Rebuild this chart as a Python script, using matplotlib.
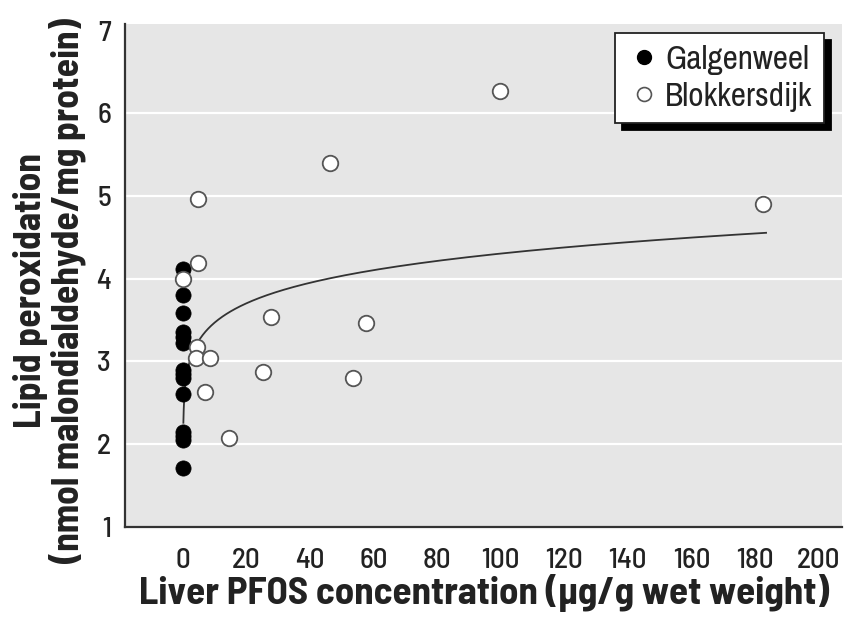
import numpy as np
import matplotlib
matplotlib.use("Agg")
import matplotlib.pyplot as plt
from matplotlib.lines import Line2D

plt.rcParams['font.family'] = ['Archivo Narrow', 'DejaVu Sans']
label_font = ['Barlow Semi Condensed', 'DejaVu Sans']

# Galgenweel (filled): liver PFOS ~0
galg_x = [0, 0, 0, 0, 0, 0, 0, 0, 0, 0, 0, 0, 0, 0]
galg_y = [4.12, 3.80, 3.59, 3.36, 3.30, 3.22, 2.90, 2.85, 2.80, 2.60, 2.15, 2.10, 2.05, 1.71]

# Blokkersdijk (open)
blok_x = [4.8, 0.1, 4.7, 46.4, 99.8, 182.6, 27.6, 57.6, 4.3, 4.1, 8.5, 25.3, 53.4, 6.9, 14.6]
blok_y = [4.19, 4.00, 4.96, 5.40, 6.27, 4.90, 3.54, 3.46, 3.18, 3.04, 3.04, 2.87, 2.80, 2.63, 2.07]

# fitted power curve y = a * x^b
fit_a = 2.80
fit_b = 0.0934
fit_xmin, fit_xmax = 0.1, 183.5

fig = plt.figure(figsize=(8.44, 6.19), dpi=100)
ax = fig.add_axes([0.148, 0.149, 0.850, 0.812])
ax.set_facecolor('#e6e6e6')

for g in [2, 3, 4, 5, 6]:
    ax.axhline(g, color='white', lw=1.6, zorder=1)

xs = np.geomspace(fit_xmin, fit_xmax, 400)
ax.plot(xs, fit_a * xs ** fit_b, color='#333333', lw=1.3, zorder=2)

ax.scatter(galg_x, galg_y, s=120, c='black', edgecolors='black', linewidths=0.5, zorder=3)
ax.scatter(blok_x, blok_y, s=125, c='white', edgecolors='#555555', linewidths=1.3, zorder=4)

ax.set_xlim(-18.3, 207.5)
ax.set_ylim(1.0, 7.08)
ax.set_xticks(range(0, 201, 20))
ax.set_yticks(range(1, 8))

for s in ['top', 'right']:
    ax.spines[s].set_visible(False)
for s in ['left', 'bottom']:
    ax.spines[s].set_color('#333333')
    ax.spines[s].set_linewidth(1.6)

ax.tick_params(length=0, labelsize=21, colors='#222222')
ax.tick_params(axis='x', pad=15)
ax.tick_params(axis='y', pad=10)
for t in ax.get_xticklabels() + ax.get_yticklabels():
    t.set_family(label_font)
    t.set_fontweight('medium')

ax.set_xlabel('Liver PFOS concentration (μg/g wet weight)', fontsize=28,
              fontweight='bold', family=label_font, color='#222222', labelpad=0)
fig.text(0.036, 0.53, 'Lipid peroxidation', rotation=90, fontsize=27,
         fontweight='bold', family=label_font, color='#222222', ha='center', va='center')
fig.text(0.080, 0.53, '(nmol malondialdehyde/mg protein)', rotation=90, fontsize=27,
         fontweight='bold', family=label_font, color='#222222', ha='center', va='center')

handles = [
    Line2D([], [], ls='none', marker='o', ms=10, mfc='black', mec='black'),
    Line2D([], [], ls='none', marker='o', ms=10, mfc='white', mec='#555555', mew=1.2),
]
leg = ax.legend(handles, ['Galgenweel', 'Blokkersdijk'], loc='upper right',
                bbox_to_anchor=(0.975, 0.982), fontsize=24, frameon=True,
                fancybox=False, edgecolor='#222222', framealpha=1,
                handletextpad=0.15, handlelength=1.0, borderpad=0.35,
                labelspacing=0.2, borderaxespad=0,
                shadow={'ox': 5, 'oy': -5, 'facecolor': 'black',
                        'edgecolor': 'black', 'alpha': 1})
leg.get_frame().set_linewidth(1.3)
for t in leg.get_texts():
    t.set_color('#222222')

fig.savefig('out.png', dpi=100)
